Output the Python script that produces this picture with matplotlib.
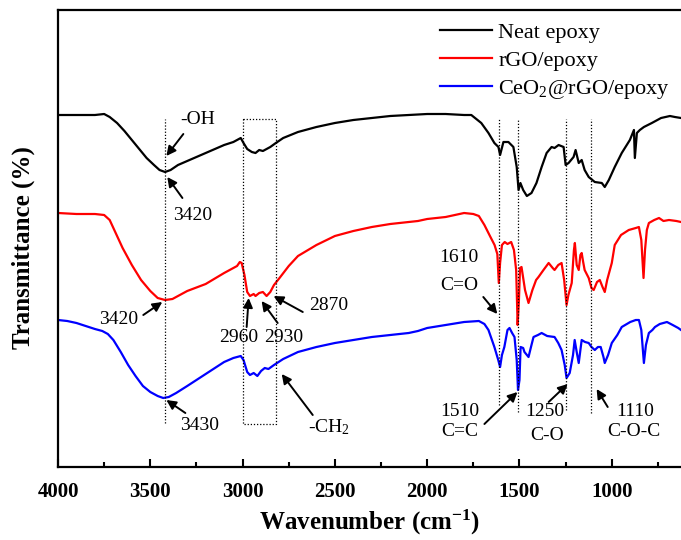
import matplotlib
matplotlib.use("Agg")
import matplotlib.pyplot as plt
import numpy as np

plt.rcParams['font.family'] = ['Liberation Serif', 'DejaVu Serif']
plt.rcParams['mathtext.fontset'] = 'custom'
plt.rcParams['mathtext.rm'] = 'Liberation Serif'
plt.rcParams['mathtext.it'] = 'Liberation Serif:italic'
plt.rcParams['mathtext.bf'] = 'Liberation Serif:bold'

# ---- data (wavenumber cm-1, transmittance arbitrary units) ----
series_names = ["Neat epoxy", "rGO/epoxy", "CeO$_2$@rGO/epoxy"]
series_colors = ["black", "#ff0000", "#0000ff"]

neat_epoxy = [
    (4000, 350), (3900, 350), (3800, 350), (3750, 351), (3720, 348), (3680, 342), (3640, 334),
    (3600, 325), (3560, 316), (3520, 307), (3480, 300), (3450, 295), (3420, 293), (3390, 295),
    (3350, 300), (3300, 304), (3250, 308), (3200, 312), (3150, 316), (3100, 320), (3050, 323),
    (3010, 327), (2995, 322), (2975, 316), (2950, 313), (2930, 312), (2910, 315), (2890, 314),
    (2870, 316), (2850, 318), (2820, 322), (2780, 327), (2700, 333), (2600, 338), (2500, 342),
    (2400, 345), (2300, 347), (2200, 349), (2100, 350), (2000, 351), (1900, 351), (1800, 350),
    (1761, 350), (1707, 342), (1668, 332), (1636, 322), (1614, 318), (1605, 310), (1587, 323),
    (1560, 323), (1533, 318), (1515, 298), (1505, 275), (1495, 282), (1480, 275), (1460, 269),
    (1435, 272), (1408, 282), (1380, 298), (1353, 312), (1326, 318), (1310, 317), (1288, 320),
    (1261, 318), (1250, 300), (1234, 302), (1207, 308), (1196, 315), (1179, 302), (1163, 305),
    (1147, 295), (1125, 288), (1092, 283), (1054, 282), (1038, 278), (1016, 285), (984, 298),
    (946, 312), (902, 325), (880, 335), (875, 307), (864, 332), (848, 335), (826, 338),
    (783, 342), (733, 347), (685, 349), (658, 348), (625, 347),
]

rgo_epoxy = [
    (4000, 252), (3900, 251), (3800, 251), (3750, 250), (3720, 245), (3690, 233), (3650, 217),
    (3600, 200), (3550, 185), (3500, 174), (3460, 167), (3420, 165), (3380, 166), (3340, 170),
    (3300, 174), (3200, 181), (3100, 192), (3030, 199), (3015, 203), (3005, 202), (2990, 190),
    (2975, 173), (2960, 169), (2940, 171), (2930, 169), (2910, 172), (2890, 173), (2870, 169),
    (2850, 173), (2830, 180), (2800, 187), (2750, 199), (2700, 209), (2600, 220), (2500, 229),
    (2400, 234), (2300, 238), (2200, 241), (2100, 243), (2050, 244), (2000, 246), (1900, 248),
    (1800, 252), (1750, 251), (1720, 249), (1690, 240), (1660, 229), (1635, 220), (1620, 211),
    (1612, 182), (1605, 202), (1595, 220), (1580, 223), (1565, 221), (1545, 223), (1530, 215),
    (1518, 195), (1510, 140), (1503, 165), (1497, 197), (1489, 198), (1470, 175), (1451, 162),
    (1430, 175), (1410, 185), (1397, 188), (1370, 195), (1342, 202), (1320, 197), (1310, 195),
    (1290, 200), (1272, 202), (1258, 185), (1245, 160), (1235, 170), (1217, 182), (1205, 215),
    (1200, 222), (1190, 200), (1179, 195), (1170, 210), (1163, 212), (1155, 203), (1147, 195),
    (1125, 187), (1110, 177), (1098, 175), (1080, 183), (1065, 185), (1050, 178), (1038, 173),
    (1025, 185), (1000, 202), (984, 220), (950, 230), (908, 235), (870, 237), (853, 238),
    (840, 225), (828, 187), (820, 215), (810, 235), (799, 242), (770, 245), (744, 247),
    (720, 244), (690, 245), (650, 244), (625, 243),
]

ceo2_rgo_epoxy = [
    (4000, 145), (3950, 144), (3900, 142), (3850, 139), (3800, 136), (3760, 134), (3730, 131),
    (3700, 125), (3660, 113), (3620, 100), (3580, 89), (3540, 79), (3500, 73), (3460, 69),
    (3430, 67), (3400, 68), (3360, 72), (3300, 79), (3250, 85), (3200, 91), (3150, 97),
    (3100, 103), (3050, 107), (3010, 109), (2995, 105), (2975, 93), (2960, 90), (2940, 92),
    (2920, 89), (2900, 94), (2880, 97), (2860, 96), (2830, 100), (2780, 106), (2700, 113),
    (2600, 118), (2500, 122), (2400, 125), (2300, 128), (2200, 130), (2100, 132), (2050, 134),
    (2000, 137), (1900, 140), (1800, 143), (1720, 144), (1690, 141), (1668, 135), (1636, 118),
    (1615, 105), (1605, 98), (1595, 110), (1582, 118), (1565, 135), (1554, 137), (1540, 132),
    (1527, 128), (1515, 105), (1508, 75), (1500, 85), (1494, 118), (1480, 117), (1473, 113),
    (1451, 108), (1435, 120), (1424, 128), (1400, 130), (1380, 132), (1350, 129), (1310, 128),
    (1290, 122), (1272, 115), (1255, 100), (1245, 87), (1228, 92), (1210, 110), (1201, 125),
    (1190, 113), (1179, 102), (1170, 115), (1163, 125), (1145, 123), (1125, 122), (1110, 118),
    (1092, 115), (1075, 118), (1060, 118), (1045, 108), (1038, 102), (1020, 110), (1000, 122),
    (970, 130), (946, 138), (900, 143), (870, 145), (853, 145), (840, 135), (826, 102),
    (815, 120), (799, 132), (780, 135), (766, 138), (740, 141), (701, 143), (670, 140),
    (640, 137), (625, 135),
]

x_ticks = [4000, 3500, 3000, 2500, 2000, 1500, 1000]
x_tick_labels = ["4000", "3500", "3000", "2500", "2000", "1500", "1000"]
x_minor = [3750, 3250, 2750, 2250, 1750, 1250, 750]

peak_lines = [3420, 1610, 1510, 1250, 1110]
ch_box = (3000, 2820)

# ---- figure ----
W, H = 681, 540
fig = plt.figure(figsize=(W / 100, H / 100), dpi=100)
ax = fig.add_axes([58 / W, (H - 467) / H, (W - 58) / W, 457 / H])

for pts, name, col in zip([neat_epoxy, rgo_epoxy, ceo2_rgo_epoxy], series_names, series_colors):
    xs = [p[0] for p in pts]
    ys = [p[1] for p in pts]
    ax.plot(xs, ys, color=col, lw=1.6, label=name)

ax.set_xlim(4000, 625)
ax.set_ylim(-2, 455)

# dotted guide lines
line_ranges = {3420: (42, 346), 1610: (60, 346), 1510: (53, 346), 1250: (55, 346), 1110: (52, 346)}
for wn in peak_lines:
    lo, hi = line_ranges[wn]
    ax.plot([wn, wn], [lo, hi], color='black', lw=0.9, ls=(0, (1, 1.5)))
bx0, bx1 = ch_box
ax.plot([bx0, bx1, bx1, bx0, bx0], [346, 346, 41, 41, 346], color='black', lw=0.9, ls=(0, (1, 1.5)))

# annotations
fs = 14
def arrow(tail, tip):
    ax.annotate('', xy=tip, xytext=tail,
                arrowprops=dict(arrowstyle='-|>', color='black', lw=1.4,
                                mutation_scale=14, shrinkA=0, shrinkB=0))

def label(x, y, s):
    ax.text(x, y, s, fontsize=fs, ha='center', va='center')

label(3245, 345, "-OH");   arrow((3321, 331), (3413, 309))
label(3272, 249, "3420");  arrow((3326, 267), (3408, 288))
label(3674, 145, "3420");  arrow((3538, 150), (3435, 163))
label(3022, 127, "2960");  arrow((2978, 138), (2967, 167))
label(2777, 127, "2930");  arrow((2810, 142), (2897, 164))
label(2533, 160, "2870");  arrow((2674, 153), (2832, 169))
label(3234, 40, "3430");   arrow((3310, 52), (3413, 65))
label(2533, 38, "-CH$_2$"); arrow((2620, 50), (2788, 91))
label(1826, 207, "1610");  label(1826, 180, "C=O"); arrow((1696, 168), (1620, 151))
label(1826, 54, "1510");   label(1826, 33, "C=C"); arrow((1690, 41), (1511, 73))
label(1364, 54, "1250");   label(1353, 30, "C-O"); arrow((1342, 63), (1239, 81))
label(875, 54, "1110");    label(880, 33, "C-O-C"); arrow((1022, 58), (1082, 76))

# axes styling
for s in ['left', 'bottom', 'top']:
    ax.spines[s].set_linewidth(1.6)
ax.spines['right'].set_visible(False)
ax.set_yticks([])
ax.set_xticks(x_ticks)
ax.set_xticklabels(x_tick_labels, fontsize=15, fontweight='bold')
ax.set_xticks(x_minor, minor=True)
ax.tick_params(axis='x', which='major', direction='in', length=6, width=1.5, pad=11)
ax.tick_params(axis='x', which='minor', direction='in', length=3.5, width=1.5)

ax.set_xlabel(r'Wavenumber (cm$^{\mathbf{-1}}$)', fontsize=18, fontweight='bold')
ax.xaxis.set_label_coords(0.5, -0.09)
ax.set_ylabel('Transmittance (%)', fontsize=18, fontweight='bold')
ax.yaxis.set_label_coords(-0.037, 0.48)

ax.legend(loc='upper left', bbox_to_anchor=(440 / W, 1 - 22 / H), bbox_transform=fig.transFigure,
          frameon=False, fontsize=16, handlelength=2.35, handletextpad=0.28,
          labelspacing=0.34, borderpad=0, borderaxespad=0)

fig.savefig('out.png', dpi=100)
